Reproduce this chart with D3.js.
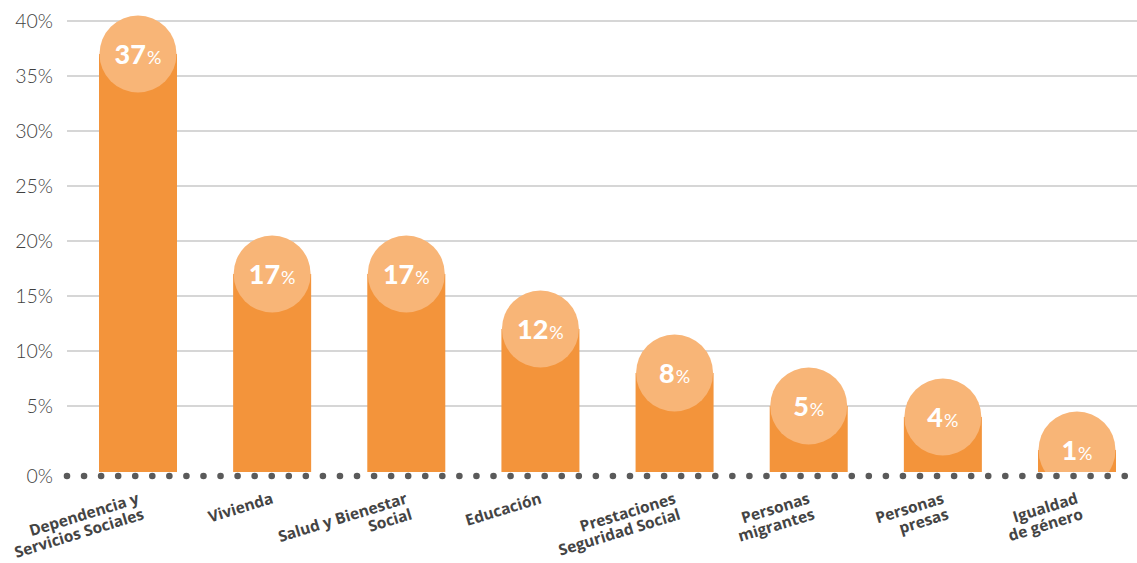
<!DOCTYPE html>
<html>
<head>
<meta charset="utf-8">
<script src="https://cdn.jsdelivr.net/npm/d3@7"></script>
<style>
  html, body { margin: 0; padding: 0; background: #fff; }
  svg { display: block; }
</style>
</head>
<body>
<svg id="chart" width="1137" height="563"></svg>
<script>
// Categories (two-line labels), values in percent, axis ticks
const categories = [
  ["Dependencia y", "Servicios Sociales"],
  ["Vivienda"],
  ["Salud y Bienestar", "Social"],
  ["Educación"],
  ["Prestaciones", "Seguridad Social"],
  ["Personas", "migrantes"],
  ["Personas", "presas"],
  ["Igualdad", "de género"]
];
const values = [37, 17, 17, 12, 8, 5, 4, 1];
const yTicks = [0, 5, 10, 15, 20, 25, 30, 35, 40];
const tickLabels = yTicks.map(t => t + "%");

const W = 1137, H = 563;
const svg = d3.select("#chart");

const barColor = "#F3943B";
const bubbleColor = "#F8B577";
const gridColor = "#C8C8C8";
const textColor = "#3f3f3f";
const labelColor = "#444444";

const gridLeft = 67;
const x = d3.scaleBand()
  .domain(d3.range(categories.length))
  .range([99, 1116])
  .paddingInner(0.4185)
  .paddingOuter(0);

const y = d3.scaleLinear().domain([0, 40]).range([461, 21]);
const baseY = y(0) + 15;   // dotted baseline
const barBottom = y(0) + 11;
const r = 38.5;

// Gridlines (non-zero ticks)
svg.append("g")
  .selectAll("line")
  .data(yTicks.filter(t => t > 0))
  .join("line")
  .attr("x1", gridLeft).attr("x2", W)
  .attr("y1", d => y(d)).attr("y2", d => y(d))
  .attr("stroke", gridColor).attr("stroke-width", 1.5);

// Y tick labels
svg.append("g")
  .selectAll("text")
  .data(yTicks)
  .join("text")
  .attr("x", 53)
  .attr("y", (d) => d === 0 ? baseY : y(d))
  .attr("dy", "0.36em")
  .attr("text-anchor", "end")
  .attr("font-family", "Lato, 'Open Sans', sans-serif")
  .attr("font-weight", 300)
  .attr("font-size", 19.5)
  .attr("fill", textColor)
  .text((d, i) => tickLabels[i]);

// Clip bubbles at the bar bottom
svg.append("defs").append("clipPath").attr("id", "plotClip")
  .append("rect").attr("x", 0).attr("y", 0).attr("width", W).attr("height", barBottom);

// Bars
svg.append("g")
  .selectAll("rect")
  .data(values)
  .join("rect")
  .attr("x", (d, i) => x(i))
  .attr("y", d => y(d))
  .attr("width", x.bandwidth())
  .attr("height", d => barBottom - y(d))
  .attr("fill", barColor);

// Value bubbles
svg.append("g")
  .attr("clip-path", "url(#plotClip)")
  .selectAll("circle")
  .data(values)
  .join("circle")
  .attr("cx", (d, i) => x(i) + x.bandwidth() / 2)
  .attr("cy", d => y(d))
  .attr("r", r)
  .attr("fill", bubbleColor);

// Value labels
const vl = svg.append("g")
  .selectAll("text")
  .data(values)
  .join("text")
  .attr("x", (d, i) => x(i) + x.bandwidth() / 2)
  .attr("y", d => y(d) + 10)
  .attr("text-anchor", "middle")
  .attr("font-family", "Lato, 'Open Sans', sans-serif")
  .attr("fill", "#ffffff");
vl.append("tspan")
  .attr("font-weight", 900)
  .attr("font-size", 27)
  .text(d => d);
vl.append("tspan")
  .attr("font-weight", 400)
  .attr("font-size", 18)
  .attr("dx", 1)
  .text("%");

// Dotted baseline
svg.append("line")
  .attr("x1", gridLeft).attr("x2", 1128)
  .attr("y1", baseY).attr("y2", baseY)
  .attr("stroke", "#5a5a5a")
  .attr("stroke-width", 6.6)
  .attr("stroke-linecap", "round")
  .attr("stroke-dasharray", "0 17.06");

// Category labels, rotated
const cl = svg.append("g")
  .selectAll("text")
  .data(categories)
  .join("text")
  .attr("transform", (d, i) => `translate(${x(i) + x.bandwidth() / 2 + 2},${503}) rotate(-17)`)
  .attr("text-anchor", "end")
  .attr("font-family", "'Open Sans', Lato, sans-serif")
  .attr("font-weight", 700)
  .attr("font-size", 15.5)
  .attr("fill", labelColor);
cl.selectAll("tspan")
  .data(d => d)
  .join("tspan")
  .attr("x", 0)
  .attr("dy", (d, i) => i === 0 ? 0 : 16.5)
  .text(d => d);
</script>
</body>
</html>
